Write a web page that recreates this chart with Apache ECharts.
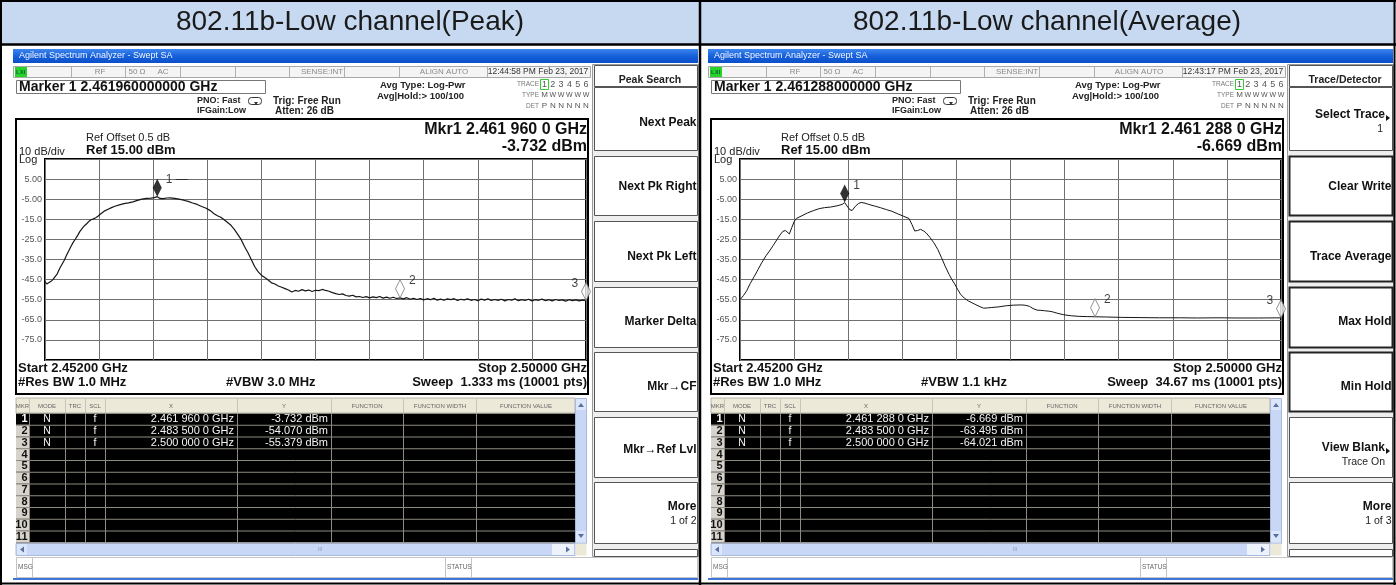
<!DOCTYPE html>
<html><head><meta charset="utf-8">
<script src="https://cdn.jsdelivr.net/npm/echarts@6/dist/echarts.min.js"></script>
<style>html,body{margin:0;padding:0;background:#fff}#c{width:1396px;height:585px}</style>
</head><body><div id="c"></div>
<script>
const FONT = '"Liberation Sans", Arial, sans-serif';

// ---------- texts ----------
const panelTitles = ['802.11b-Low channel(Peak)', '802.11b-Low channel(Average)'];
const markerReadouts = ['Marker 1 2.461960000000 GHz', 'Marker 1 2.461288000000 GHz'];
const timeStamps = ['12:44:58 PM Feb 23, 2017', '12:43:17 PM Feb 23, 2017'];
const mkrFreqText = ['Mkr1 2.461 960 0 GHz', 'Mkr1 2.461 288 0 GHz'];
const mkrValText = ['-3.732 dBm', '-6.669 dBm'];
const vbwText = ['#VBW 3.0 MHz', '#VBW 1.1 kHz'];
const sweepText = ['Sweep  1.333 ms (10001 pts)', 'Sweep  34.67 ms (10001 pts)'];
const yTickLabels = ['5.00', '-5.00', '-15.0', '-25.0', '-35.0', '-45.0', '-55.0', '-65.0', '-75.0'];
const refLevelDbm = 15;          // top of the screen
const spanMHz = 48;               // 2.452 GHz .. 2.500 GHz

// ---------- traces: [frequency offset from 2452 MHz (MHz), level (dBm)] ----------
const peakTrace = [
 [0.00,-46.0],[0.15,-47.2],[0.30,-46.8],[0.50,-46.0],[0.70,-45.0],[0.90,-43.5],[1.10,-42.0],[1.30,-39.5],
 [1.50,-37.5],[1.70,-35.5],[1.90,-33.0],[2.10,-30.8],[2.30,-28.5],[2.50,-26.5],[2.70,-24.8],[2.90,-23.0],
 [3.10,-21.0],[3.30,-19.5],[3.50,-18.2],[3.70,-17.2],[3.90,-16.0],[4.10,-15.2],[4.30,-14.8],[4.50,-14.2],
 [4.70,-13.5],[4.90,-12.5],[5.10,-11.6],[5.30,-10.8],[5.60,-10.0],[5.90,-9.2],[6.20,-8.5],[6.60,-7.8],
 [7.00,-7.2],[7.40,-6.8],[7.80,-6.3],[8.20,-5.6],[8.60,-5.0],[9.00,-4.6],[9.40,-4.5],[9.70,-4.2],
 [9.96,-3.73],[10.20,-4.6],[10.50,-4.7],[10.80,-4.4],[11.10,-4.3],[11.50,-4.6],[11.90,-5.0],[12.30,-5.5],
 [12.70,-6.1],[13.10,-6.9],[13.50,-7.6],[13.90,-8.6],[14.30,-9.5],[14.70,-10.8],[15.00,-12.2],[15.30,-13.2],
 [15.60,-14.0],[15.90,-15.2],[16.20,-16.6],[16.50,-18.0],[16.80,-20.0],[17.10,-22.5],[17.40,-25.0],[17.70,-28.5],
 [18.00,-31.5],[18.30,-35.0],[18.60,-38.5],[18.90,-41.0],[19.20,-42.8],[19.50,-44.0],[19.80,-45.2],[20.10,-46.6],
 [20.40,-47.2],[20.70,-48.2],[21.00,-48.8],[21.30,-49.5],[21.60,-50.2],[21.90,-51.2],[22.20,-50.4],[22.50,-50.8],
 [22.80,-50.0],[23.10,-50.6],[23.40,-50.2],[23.70,-50.9],[24.00,-50.3],[24.30,-50.5],[24.60,-49.9],[24.90,-50.4],
 [25.20,-50.8],[25.50,-51.5],[25.80,-52.0],[26.10,-52.4],[26.40,-52.1],[26.70,-52.9],[27.00,-53.2],[27.30,-52.8],
 [27.60,-53.6],[27.90,-53.4],[28.20,-53.9],[28.50,-53.5],[28.80,-54.1],[29.10,-53.6],[29.40,-54.0],[29.70,-53.4],
 [30.00,-54.2],[30.30,-53.7],[30.60,-54.3],[30.90,-53.8],[31.20,-54.4],[31.50,-54.07],[31.80,-54.6],[32.10,-54.0],
 [32.40,-54.8],[32.70,-54.3],[33.00,-54.9],[33.30,-54.4],[33.60,-55.1],[33.90,-54.5],[34.20,-55.0],[34.50,-54.3],
 [34.80,-55.2],[35.10,-54.7],[35.40,-55.3],[35.70,-54.6],[36.00,-55.0],[36.30,-54.5],[36.60,-55.4],[36.90,-54.8],
 [37.20,-55.1],[37.50,-54.6],[37.80,-55.3],[38.10,-54.9],[38.40,-55.5],[38.70,-54.7],[39.00,-55.2],[39.30,-54.6],
 [39.60,-55.4],[39.90,-54.9],[40.20,-55.3],[40.50,-54.8],[40.80,-55.6],[41.10,-54.9],[41.40,-55.2],[41.70,-54.6],
 [42.00,-55.5],[42.30,-55.0],[42.60,-55.4],[42.90,-54.8],[43.20,-55.6],[43.50,-55.0],[43.80,-55.3],[44.10,-54.7],
 [44.40,-55.5],[44.70,-55.0],[45.00,-55.6],[45.30,-54.9],[45.60,-55.4],[45.90,-55.1],[46.20,-55.7],[46.50,-55.0],
 [46.80,-55.5],[47.10,-55.1],[47.40,-55.6],[47.70,-55.2],[48.00,-55.38]
];
const avgTrace = [
 [0.00,-55.0],[0.30,-53.0],[0.60,-50.5],[0.90,-47.0],[1.26,-43.5],[1.60,-40.0],[1.93,-36.6],[2.30,-33.2],
 [2.61,-30.8],[2.95,-28.0],[3.29,-25.0],[3.55,-22.8],[3.80,-21.0],[4.04,-20.6],[4.20,-21.2],[4.38,-22.3],
 [4.60,-19.0],[4.82,-16.0],[5.00,-14.6],[5.50,-13.2],[6.00,-11.8],[6.50,-10.7],[7.02,-9.7],[7.50,-9.2],
 [8.04,-8.9],[8.60,-8.3],[9.06,-7.6],[9.29,-6.669],[9.50,-8.4],[9.75,-10.3],[9.95,-10.6],[10.24,-8.5],
 [10.50,-7.2],[10.75,-6.6],[11.10,-7.0],[11.43,-7.6],[12.00,-8.5],[12.45,-9.2],[13.00,-10.2],[13.47,-11.0],
 [14.00,-12.3],[14.48,-13.4],[14.99,-14.6],[15.25,-17.5],[15.50,-20.8],[15.75,-20.6],[16.01,-20.0],[16.30,-20.8],
 [16.52,-21.8],[16.85,-24.0],[17.20,-26.7],[17.55,-30.0],[17.88,-34.1],[18.20,-38.3],[18.55,-42.4],[18.80,-45.0],
 [19.06,-47.3],[19.30,-49.8],[19.57,-52.3],[19.90,-54.2],[20.25,-55.6],[20.60,-56.6],[20.93,-57.5],[21.30,-58.5],
 [21.61,-59.2],[21.95,-59.1],[22.29,-58.9],[22.90,-58.6],[23.64,-58.0],[24.30,-57.7],[25.00,-57.6],[25.35,-57.8],
 [25.68,-58.3],[26.00,-59.4],[26.36,-60.2],[26.70,-60.3],[27.03,-60.5],[27.40,-60.7],[27.71,-61.0],[28.20,-61.8],
 [28.73,-62.5],[29.40,-63.0],[30.09,-63.3],[30.80,-63.4],[31.50,-63.495],[32.50,-63.6],[33.82,-63.8],[35.50,-63.9],
 [37.21,-64.0],[39.00,-64.0],[40.60,-64.1],[42.50,-64.0],[44.00,-64.1],[46.00,-64.1],[48.00,-64.021]
];

// ---------- markers ----------
const peakMarkerFreq = [9.96, 31.5, 48];
const peakMarkerLevel = [-3.732, -54.070, -55.379];
const avgMarkerFreq = [9.288, 31.5, 48];
const avgMarkerLevel = [-6.669, -63.495, -64.021];
const peakTableX = ['2.461 960 0 GHz', '2.483 500 0 GHz', '2.500 000 0 GHz'];
const peakTableY = ['-3.732 dBm', '-54.070 dBm', '-55.379 dBm'];
const avgTableX = ['2.461 288 0 GHz', '2.483 500 0 GHz', '2.500 000 0 GHz'];
const avgTableY = ['-6.669 dBm', '-63.495 dBm', '-64.021 dBm'];
const tableHeader = ['MKR', 'MODE', 'TRC', 'SCL', 'X', 'Y', 'FUNCTION', 'FUNCTION WIDTH', 'FUNCTION VALUE'];

// ---------- soft keys ----------
const peakSoftKeys = ['Peak Search', 'Next Peak', 'Next Pk Right', 'Next Pk Left', 'Marker Delta', 'Mkr\u2192CF', 'Mkr\u2192Ref Lvl', 'More|1 of 2'];
const avgSoftKeys = ['Trace/Detector', 'Select Trace>|1', 'Clear Write', 'Trace Average', 'Max Hold', 'Min Hold', 'View Blank>|Trace On', 'More|1 of 3'];

// ---------- layout ----------
const panelX = [0, 695];

function R(x, y, w, h, fill, stroke, lw, z, r) {
  return {type: 'rect', silent: true, z: z == null ? 1 : z, shape: {x: x, y: y, width: w, height: h, r: r || 0},
    style: {fill: fill || 'none', stroke: stroke || null, lineWidth: lw || 0}};
}
function L(x1, y1, x2, y2, stroke, lw, z) {
  return {type: 'line', silent: true, z: z == null ? 3 : z, shape: {x1: x1, y1: y1, x2: x2, y2: y2},
    style: {stroke: stroke, lineWidth: lw || 1}};
}
function T(x, y, text, size, o) {
  o = o || {};
  return {type: 'text', silent: true, z: o.z == null ? 10 : o.z, x: x, y: y,
    style: {text: text, fill: o.c || '#111', font: (o.b ? 'bold ' : '') + size + 'px ' + FONT,
      align: o.a || 'left', verticalAlign: 'middle', textAlign: o.a || 'left', textVerticalAlign: 'middle'}};
}
function P(points, fill, z) {
  return {type: 'polygon', silent: true, z: z == null ? 11 : z, shape: {points: points}, style: {fill: fill}};
}

function panelGraphics(p) {
  const x0 = panelX[p];
  const g = [];
  // title-bar of the analyzer window
  g.push(R(x0 + 13, 49, 685, 14, {type: 'linear', x: 0, y: 0, x2: 0, y2: 1,
    colorStops: [{offset: 0, color: '#3d86ee'}, {offset: 0.5, color: '#1660dc'}, {offset: 1, color: '#0b4fc8'}]}, null, 0, 1));
  g.push(T(x0 + 19, 56, 'Agilent Spectrum Analyzer - Swept SA', 9, {c: '#f2f6ff'}));
  // status row
  g.push(R(x0 + 13.5, 66.5, 577, 11, '#f4f4f4', '#a8a8a8', 1, 1));
  [71, 125, 180, 235, 289, 344, 399, 487].forEach(function (c) { g.push(L(x0 + c + 0.5, 67, x0 + c + 0.5, 77, '#b0b0b0', 1)); });
  g.push(R(x0 + 15, 67, 12, 10, '#2bd12b', null, 0, 2));
  g.push(T(x0 + 16, 72, 'LXI', 6, {b: true, c: '#063'}));
  g.push(T(x0 + 100, 72, 'RF', 8, {c: '#8a8a8a', a: 'center'}));
  g.push(T(x0 + 137, 72, '50 \u03a9', 8, {c: '#8a8a8a', a: 'center'}));
  g.push(T(x0 + 163, 72, 'AC', 8, {c: '#8a8a8a', a: 'center'}));
  g.push(T(x0 + 322, 72, 'SENSE:INT', 8, {c: '#8a8a8a', a: 'center'}));
  g.push(T(x0 + 444, 72, 'ALIGN AUTO', 8, {c: '#8a8a8a', a: 'center'}));
  g.push(T(x0 + 538, 72, timeStamps[p], 8.5, {c: '#333', a: 'center'}));
  // marker readout box
  g.push(R(x0 + 16.5, 80.5, 249, 13, '#fff', '#777', 1, 1));
  g.push(T(x0 + 19, 87.5, markerReadouts[p], 14, {b: true}));
  g.push(T(x0 + 197, 101, 'PNO: Fast', 9, {b: true, c: '#222'}));
  g.push(T(x0 + 197, 111, 'IFGain:Low', 9, {b: true, c: '#222'}));
  g.push(R(x0 + 248.5, 97.5, 13, 7, '#fff', '#333', 1, 2, 3));
  g.push(P([[x0 + 254, 102], [x0 + 258, 102], [x0 + 256, 105]], '#333'));
  g.push(T(x0 + 273, 101, 'Trig: Free Run', 10, {b: true, c: '#222'}));
  g.push(T(x0 + 275, 111, 'Atten: 26 dB', 10, {b: true, c: '#222'}));
  g.push(T(x0 + 380, 85, 'Avg Type: Log-Pwr', 9.5, {b: true, c: '#222'}));
  g.push(T(x0 + 377, 96, 'Avg|Hold:> 100/100', 9.5, {b: true, c: '#222'}));
  // trace block
  g.push(T(x0 + 539, 84, 'TRACE', 6.5, {c: '#777', a: 'right'}));
  g.push(T(x0 + 539, 95, 'TYPE', 6.5, {c: '#777', a: 'right'}));
  g.push(T(x0 + 539, 106, 'DET', 6.5, {c: '#777', a: 'right'}));
  g.push(R(x0 + 540.5, 79.5, 8, 10, '#fff', '#3c3', 1, 2));
  ['1', '2', '3', '4', '5', '6'].forEach(function (d, i) {
    g.push(T(x0 + 544.5 + i * 8.3, 84.5, d, 9, {c: '#555', a: 'center'}));
    g.push(T(x0 + 544.5 + i * 8.3, 95, i === 0 ? 'M' : 'W', i === 0 ? 8 : 7, {c: '#555', a: 'center'}));
    g.push(T(x0 + 544.5 + i * 8.3, 106, i === 0 ? 'P' : 'N', 8, {c: '#555', a: 'center'}));
  });
  // graph frame
  g.push(R(x0 + 16, 119, 572, 275, '#fff', '#000', 2, -10));
  g.push(T(x0 + 86, 137.5, 'Ref Offset 0.5 dB', 11, {c: '#222'}));
  g.push(T(x0 + 86, 150.5, 'Ref 15.00 dBm', 13, {b: true}));
  g.push(T(x0 + 19, 151.5, '10 dB/div', 11, {c: '#222'}));
  g.push(T(x0 + 19, 159.5, 'Log', 11, {c: '#222'}));
  g.push(T(x0 + 587, 130, mkrFreqText[p], 16, {b: true, a: 'right'}));
  g.push(T(x0 + 587, 147, mkrValText[p], 16, {b: true, a: 'right'}));
  g.push(T(x0 + 18, 368.5, 'Start 2.45200 GHz', 13, {b: true}));
  g.push(T(x0 + 18, 382.5, '#Res BW 1.0 MHz', 13, {b: true}));
  g.push(T(x0 + 226, 382.5, vbwText[p], 13, {b: true}));
  g.push(T(x0 + 587, 368.5, 'Stop 2.50000 GHz', 13, {b: true, a: 'right'}));
  g.push(T(x0 + 587, 382.5, sweepText[p], 13, {b: true, a: 'right'}));

  // marker table
  const tx = x0 + 16, tr = x0 + 575, rowH = 11.75, rowTop = 413;
  const seps = [29, 65, 85, 105, 237, 331, 403, 476];
  g.push(R(tx, 398, 559, 15, '#ece9d8', '#b8b4a8', 1, 1));
  seps.forEach(function (c) { g.push(L(x0 + c + 0.5, 399, x0 + c + 0.5, 413, '#c8c4b8', 1)); });
  const hx = [22.5, 47, 75, 95, 171, 284, 367, 440, 526];
  tableHeader.forEach(function (h, i) { g.push(T(x0 + hx[i], 406, h, 6, {c: '#666', a: 'center'})); });
  g.push(R(tx, rowTop, 559, rowH * 11, '#000', null, 0, 1));
  for (let i = 1; i < 11; i++) g.push(R(tx, rowTop + rowH * i, 13, rowH, '#d6d3cc', null, 0, 2));
  for (let i = 0; i <= 11; i++) g.push(L(tx, rowTop + rowH * i + 0.5, tr, rowTop + rowH * i + 0.5, '#8e8b80', 1));
  seps.forEach(function (c) { g.push(L(x0 + c + 0.5, rowTop, x0 + c + 0.5, rowTop + rowH * 11, '#8e8b80', 1)); });
  const tX = p === 0 ? peakTableX : avgTableX, tY = p === 0 ? peakTableY : avgTableY;
  for (let i = 0; i < 11; i++) {
    const cy = rowTop + rowH * i + rowH / 2 + 0.5;
    g.push(T(x0 + 27.5, cy, String(i + 1), 11, {b: true, a: 'right', c: i === 0 ? '#fff' : '#111'}));
    if (i < 3) {
      g.push(T(x0 + 47, cy, 'N', 10.5, {c: '#f4f4f4', a: 'center'}));
      g.push(T(x0 + 95, cy, 'f', 10.5, {c: '#f4f4f4', a: 'center'}));
      g.push(T(x0 + 234, cy, tX[i], 11, {c: '#f4f4f4', a: 'right'}));
      g.push(T(x0 + 328, cy, tY[i], 11, {c: '#f4f4f4', a: 'right'}));
    }
  }
  // scrollbars
  g.push(R(x0 + 575.5, 398.5, 11, 145, '#c8d7f5', '#a9badf', 1, 1));
  g.push(R(x0 + 576, 399, 10, 11, '#dce6fa', null, 0, 2));
  g.push(P([[x0 + 578, 407], [x0 + 581, 403], [x0 + 584, 407]], '#5a6fa0'));
  g.push(R(x0 + 576, 531, 10, 11, '#dce6fa', null, 0, 2));
  g.push(P([[x0 + 578, 534], [x0 + 581, 538], [x0 + 584, 534]], '#5a6fa0'));
  g.push(R(tx, 543.5, 559, 12, '#c8d7f5', '#a9badf', 1, 1));
  g.push(R(tx + 1, 544, 10, 11, '#dce6fa', null, 0, 2));
  g.push(P([[tx + 8, 546.5], [tx + 4, 549.5], [tx + 8, 552.5]], '#5a6fa0'));
  g.push(R(x0 + 552, 544, 22, 11, '#eef2fb', null, 0, 2));
  g.push(P([[x0 + 566, 546.5], [x0 + 570, 549.5], [x0 + 566, 552.5]], '#5a6fa0'));
  g.push(T(x0 + 320, 549.5, 'III', 6, {c: '#8fa3cc', a: 'center'}));
  g.push(R(x0 + 575.5, 543.5, 11, 12, '#ece9d8', null, 0, 2));
  // message bar
  g.push(R(x0 + 16.5, 557.5, 681, 20, '#fff', '#c4c4c4', 1, 1));
  g.push(L(x0 + 32.5, 558, x0 + 32.5, 577, '#c4c4c4', 1));
  g.push(L(x0 + 445.5, 558, x0 + 445.5, 577, '#c4c4c4', 1));
  g.push(L(x0 + 471.5, 558, x0 + 471.5, 577, '#c4c4c4', 1));
  g.push(T(x0 + 18, 567.5, 'MSG', 6.5, {c: '#666'}));
  g.push(T(x0 + 447, 567.5, 'STATUS', 6.5, {c: '#666'}));
  g.push(L(x0 + 13, 579, x0 + 698, 579, '#3f74d8', 2, 3));

  // soft keys
  const keys = p === 0 ? peakSoftKeys : avgSoftKeys;
  const kw = 103;
  g.push(R(x0 + 592.5, 64.5, 106, 492, '#eeeeee', '#9a9a9a', 1, 0));
  g.push(R(x0 + 594.5, 65.5, kw, 21, '#fff', '#555', 1, 1));
  g.push(T(x0 + 650, 80.5, keys[0], 10.5, {b: true, a: 'center', c: '#222'}));
  const boxes = [[87, 150], [156, 215], [221, 281], [287, 347], [352, 411], [417, 477], [482, 543]];
  const textY = [123, 187, 257, 322, 387, 450, 0];
  boxes.forEach(function (b, i) {
    const grouped = p === 1 && i >= 1 && i <= 4;
    g.push(R(x0 + 594.5, b[0] + 0.5, kw, b[1] - b[0], '#fff', grouped ? '#222' : '#555', grouped ? 2 : 1, 1));
    const parts = keys[i + 1].split('|');
    let main = parts[0], arrow = false;
    if (main.slice(-1) === '>') { main = main.slice(0, -1); arrow = true; }
    const right = x0 + (arrow ? 690 : 696.5);
    if (parts.length === 1) {
      g.push(T(right, textY[i], main, 12, {b: true, a: 'right'}));
    } else {
      const y1 = i === 6 ? 507 : (i === 0 ? 115 : 448);
      g.push(T(right, y1, main, 12, {b: true, a: 'right'}));
      g.push(T(x0 + (i === 0 ? 688 : (arrow ? 690 : 696.5)), y1 + 14.5, parts[1], 10.5, {a: 'right', c: '#222'}));
    }
    if (arrow) {
      const ay = i === 0 ? 118 : 451;
      g.push(P([[x0 + 691, ay - 3], [x0 + 695, ay], [x0 + 691, ay + 3]], '#111'));
    }
  });
  g.push(R(x0 + 594.5, 549.5, kw, 7, '#fff', '#555', 1, 1));
  return g;
}

let graphics = [];
// page title row
graphics.push(R(0, 0, 1396, 44, '#c6d9f1', null, 0, 0));
graphics.push(T(350, 22, panelTitles[0], 28, {a: 'center', c: '#1a1a1a'}));
graphics.push(T(1047, 22, panelTitles[1], 28, {a: 'center', c: '#1a1a1a'}));
graphics = graphics.concat(panelGraphics(0), panelGraphics(1));
// outer frame and dividers
graphics.push(L(0, 1, 1396, 1, '#000', 2, 60));
graphics.push(L(0, 44.5, 1396, 44.5, '#000', 2.5, 60));
graphics.push(L(0, 583.5, 1396, 583.5, '#000', 2, 60));
graphics.push(L(1, 0, 1, 585, '#000', 2, 60));
graphics.push(L(1394.5, 0, 1394.5, 585, '#000', 2, 60));
graphics.push(L(700, 0, 700, 585, '#000', 2.5, 60));

// ---------- chart ----------
const grids = [0, 1].map(function (i) {
  return {left: panelX[i] + 45, top: 159, width: 541, height: 201, show: true,
    backgroundColor: '#fff', borderColor: '#000', borderWidth: 2};
});
const xAxes = [0, 1].map(function (i) {
  return {gridIndex: i, type: 'value', min: 0, max: spanMHz, interval: 4.8,
    axisLine: {show: false}, axisTick: {show: false}, axisLabel: {show: false},
    splitLine: {show: true, lineStyle: {color: '#6f6f6f', width: 1}}};
});
const yAxes = [0, 1].map(function (i) {
  return {gridIndex: i, type: 'value', min: -100, max: 0, interval: 10,
    axisLine: {show: false}, axisTick: {show: false},
    splitLine: {show: true, lineStyle: {color: '#6f6f6f', width: 1}},
    axisLabel: {show: true, margin: 3, fontSize: 9, color: '#555', fontFamily: FONT,
      formatter: function (v) { const k = Math.round(-v / 10) - 1; return (k >= 0 && k < yTickLabels.length) ? yTickLabels[k] : ''; }}};
});
function toScreen(trace) { return trace.map(function (d) { return [d[0], d[1] - refLevelDbm]; }); }
function markerSeries(idx, freqs, levels) {
  return {type: 'scatter', xAxisIndex: idx, yAxisIndex: idx, clip: false, z: 5, silent: true,
    symbol: 'diamond', symbolSize: [9, 18], symbolOffset: [0, -9],
    data: freqs.map(function (f, i) {
      return {value: [f, levels[i] - refLevelDbm],
        itemStyle: i === 0 ? {color: '#000'} : {color: '#fff', borderColor: '#777', borderWidth: 1},
        label: {show: true, formatter: (i === 0 && idx === 0) ? '1 \u2014' : String(i + 1), position: i === 2 ? 'left' : 'right',
          offset: i === 2 ? [2, -8] : [-1, -8], fontSize: 12, color: '#111', fontFamily: FONT}};
    })};
}
const series = [
  {type: 'line', xAxisIndex: 0, yAxisIndex: 0, data: toScreen(peakTrace), symbol: 'none', silent: true,
    lineStyle: {color: '#161616', width: 1.2}, z: 3},
  {type: 'line', xAxisIndex: 1, yAxisIndex: 1, data: toScreen(avgTrace), symbol: 'none', silent: true,
    lineStyle: {color: '#161616', width: 1}, z: 3},
  markerSeries(0, peakMarkerFreq, peakMarkerLevel),
  markerSeries(1, avgMarkerFreq, avgMarkerLevel)
];

const chart = echarts.init(document.getElementById('c'), null, {renderer: 'canvas'});
chart.setOption({
  animation: false,
  backgroundColor: '#fff',
  grid: grids, xAxis: xAxes, yAxis: yAxes, series: series,
  graphic: {elements: graphics}
});
</script></body></html>
